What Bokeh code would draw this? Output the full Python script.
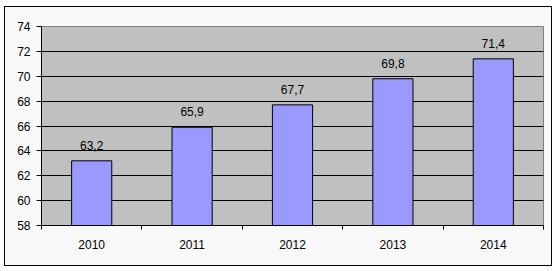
from bokeh.plotting import figure
from bokeh.models import Range1d, FixedTicker, ColumnDataSource
from bokeh.embed import file_html
from bokeh.resources import INLINE
from bokeh.core.properties import value

years = ["2010", "2011", "2012", "2013", "2014"]
values = [63.2, 65.9, 67.7, 69.8, 71.4]
y_ticks = [58, 60, 62, 64, 66, 68, 70, 72, 74]

xs = [i + 0.5 for i in range(len(years))]
labels = [f"{v:.1f}".replace(".", ",") for v in values]
src = ColumnDataSource(dict(x=xs, top=values, label=labels))

FONT = "Liberation Sans"

p = figure(width=546, height=258, x_range=Range1d(0, len(years)), y_range=Range1d(58, 74),
           output_backend="svg", toolbar_location=None,
           min_border_left=36, min_border_right=8, min_border_top=19, min_border_bottom=40,
           background_fill_color="#C0C0C0", border_fill_color="#F8F8F8",
           margin=(7, 0, 0, 5), styles={"outline": "1px solid black"})
p.outline_line_color = "#808080"
p.outline_line_width = 1

p.vbar(x="x", top="top", bottom=58, width=0.4, source=src,
       fill_color="#9999FF", line_color="black", line_width=1)
p.text(x="x", y="top", text="label", source=src, text_align="center", text_baseline="bottom",
       y_offset=-11, text_font=value(FONT), text_font_size="12px", text_color="black")

# y axis
p.yaxis.ticker = FixedTicker(ticks=y_ticks)
p.yaxis.major_tick_out = 5
p.yaxis.major_tick_in = 0
p.yaxis.minor_tick_line_color = None
p.yaxis.axis_line_color = "black"
p.yaxis.major_label_text_font = FONT
p.yaxis.major_label_text_font_size = "12px"
p.yaxis.major_label_text_color = "black"
p.yaxis.major_label_standoff = 6

# x axis: labels at centers, tick marks at boundaries
p.xaxis.ticker = FixedTicker(ticks=xs, minor_ticks=list(range(len(years) + 1)))
p.xaxis.major_label_overrides = {x: y for x, y in zip(xs, years)}
p.xaxis.major_tick_out = 0
p.xaxis.major_tick_in = 0
p.xaxis.minor_tick_out = 4
p.xaxis.minor_tick_in = 0
p.xaxis.minor_tick_line_color = "black"
p.xaxis.axis_line_color = "black"
p.xaxis.major_label_text_font = FONT
p.xaxis.major_label_text_font_size = "12px"
p.xaxis.major_label_text_color = "black"
p.xaxis.major_label_standoff = 10

p.xgrid.grid_line_color = None
p.ygrid.ticker = FixedTicker(ticks=y_ticks[1:-1])
p.ygrid.grid_line_color = "black"
p.ygrid.grid_line_width = 1

open("out.html", "w").write(file_html(p, INLINE))
